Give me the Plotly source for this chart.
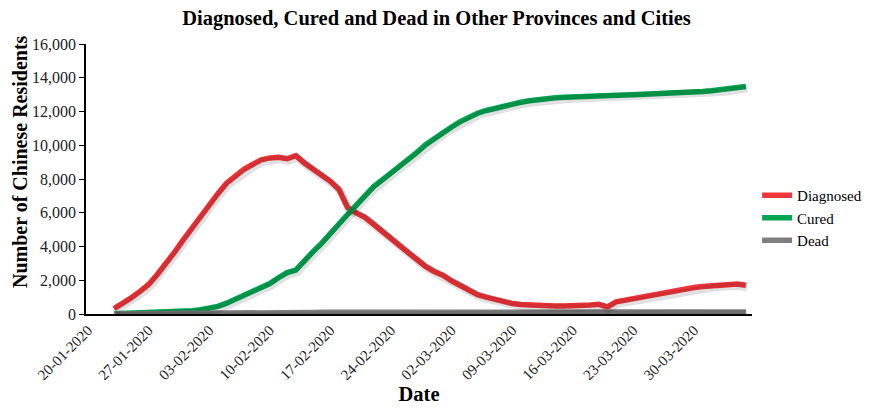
import pandas as pd
import plotly.graph_objects as go

# Daily figures, 23-01-2020 .. 05-04-2020
dates = pd.date_range("2020-01-23", "2020-04-05", freq="D")

diagnosed = [
    320, 620, 960, 1340, 1750, 2340, 2950, 3670, 4390, 5110,
    5800, 6510, 7130, 7750, 8170, 8570, 8860, 9130, 9250, 9290,
    9200, 9380, 8950, 8580, 8290, 7860, 7370, 6300, 5990, 5730,
    5320, 4880, 4470, 4060, 3640, 3230, 2820, 2520, 2300, 1970,
    1700, 1390, 1150, 1000, 860, 720, 620, 560, 520, 500,
    490, 480, 480, 480, 490, 530, 570, 420, 720, 820,
    910, 1010, 1110, 1220, 1320, 1420, 1500, 1570, 1630, 1680,
    1730, 1770, 1780, 1700,
]
cured = [
    20, 30, 40, 50, 60, 80, 100, 120, 150, 190,
    250, 320, 450, 640, 870, 1080, 1310, 1550, 1800, 2150,
    2450, 2600, 3200, 3700, 4200, 4800, 5340, 5910, 6450, 7030,
    7550, 7950, 8340, 8710, 9130, 9580, 10030, 10400, 10780, 11080,
    11400, 11680, 11900, 12060, 12200, 12350, 12460, 12550, 12640, 12720,
    12770, 12810, 12840, 12870, 12890, 12910, 12940, 12950, 12965, 12980,
    12995, 13010, 13030, 13050, 13070, 13100, 13130, 13160, 13190, 13230,
    13280, 13330, 13400, 13480,
]
dead = [
    1, 2, 3, 5, 7, 9, 11, 13, 17, 21,
    25, 29, 33, 37, 41, 45, 52, 58, 63, 69,
    75, 82, 88, 93, 97, 100, 103, 105, 107, 108,
    109, 109, 110, 110, 110, 111, 111, 111, 111, 111,
    111, 111, 111, 112, 112, 112, 112, 112, 112, 112,
    112, 112, 112, 112, 112, 112, 112, 112, 112, 112,
    112, 112, 112, 112, 112, 112, 112, 113, 113, 113,
    113, 113, 113, 113,
]

series = [
    ("Diagnosed", diagnosed, "#F2353A"),
    ("Cured", cured, "#00A651"),
    ("Dead", dead, "#7F7F7F"),
]

serif = "Liberation Serif, 'Times New Roman', serif"
x_range = ["2020-01-19 18:30", "2020-04-05 17:00"]
y_range = [0, 16000]

fig = go.Figure()

# soft drop shadows: same data on twin axes nudged a couple of pixels
for name, vals, color in series:
    fig.add_trace(go.Scatter(
        x=dates, y=vals, mode="lines", xaxis="x2", yaxis="y2",
        line=dict(color="rgba(0,0,0,0.12)", width=8),
        showlegend=False, hoverinfo="skip",
    ))

for name, vals, color in series:
    fig.add_trace(go.Scatter(
        x=dates, y=vals, mode="lines", name=name,
        line=dict(color=color, width=5.5),
    ))

# page body has an 8px margin, so the figure is sized to fit inside the window
fig.update_layout(
    width=865, height=401,
    plot_bgcolor="white", paper_bgcolor="white",
    margin=dict(l=78, r=121, t=36, b=95),
    font=dict(family=serif, color="#222", size=14),
    title=dict(
        text="<b>Diagnosed, Cured and Dead in Other Provinces and Cities</b>",
        x=0.4954, xanchor="center", y=0.975, yanchor="middle",
        font=dict(family=serif, size=20.5, color="black"),
    ),
    xaxis=dict(
        type="date", range=x_range, automargin=False,
        tick0="2020-01-20", dtick=7 * 86400000, tickformat="%d-%m-%Y",
        tickangle=-45, showline=True, linecolor="black", linewidth=1.5,
        showgrid=False, zeroline=False, ticks="",
        tickfont=dict(family=serif, size=15, color="#222"),
        title=dict(text="<b>Date</b>", standoff=4,
                   font=dict(family=serif, size=20.5, color="black")),
    ),
    yaxis=dict(
        range=y_range, dtick=2000, tickformat=",", automargin=False,
        showline=True, linecolor="black", linewidth=1.5,
        showgrid=False, zeroline=False, ticks="outside", ticklen=5,
        tickcolor="black", tickfont=dict(family=serif, size=16, color="#222"),
    ),
    xaxis2=dict(
        type="date", overlaying="x",
        range=[pd.Timestamp(x_range[0]) - pd.Timedelta(hours=4),
               pd.Timestamp(x_range[1]) - pd.Timedelta(hours=4)],
        visible=False,
    ),
    yaxis2=dict(overlaying="y", range=[y_range[0] + 120, y_range[1] + 120], visible=False),
    legend=dict(
        xref="container", x=0.866, xanchor="left",
        yref="paper", y=0.5, yanchor="top",
        font=dict(family=serif, size=15, color="black"), itemwidth=30,
        bgcolor="rgba(0,0,0,0)",
    ),
    showlegend=True,
)

# y-axis title sits a little above the plot centre in the reference
fig.add_annotation(
    text="<b>Number of Chinese Residents</b>", textangle=-90,
    xref="paper", yref="paper", x=-0.099, y=0.563,
    xanchor="center", yanchor="middle", showarrow=False,
    font=dict(size=20, color="black", family=serif),
)

fig.write_html("out.html")
